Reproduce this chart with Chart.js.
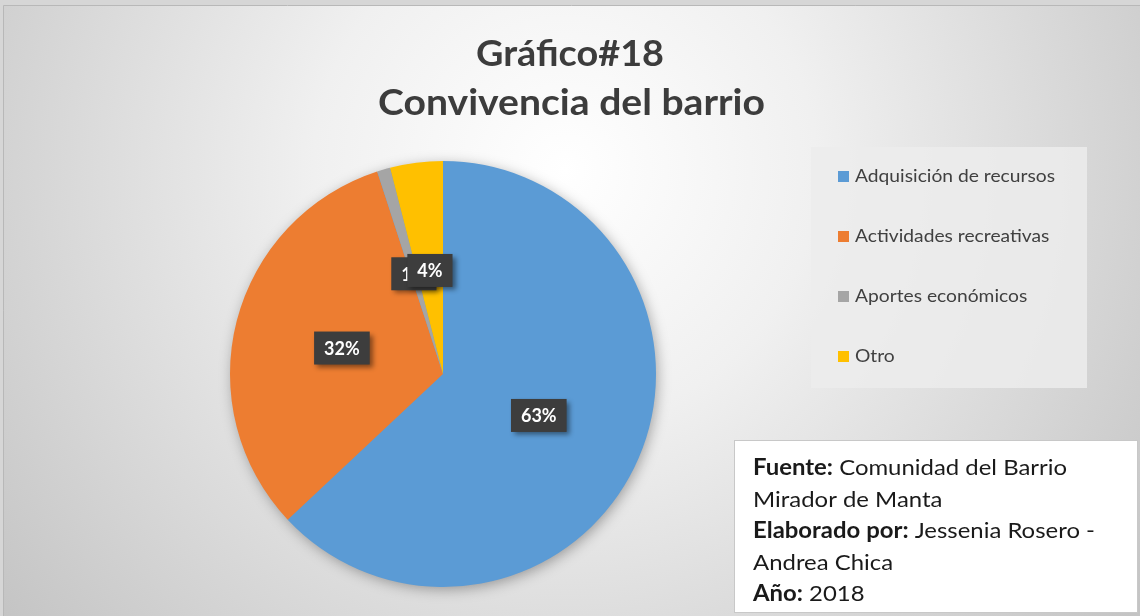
<!DOCTYPE html>
<html>
<head>
<meta charset="utf-8">
<script src="https://cdn.jsdelivr.net/npm/chart.js@4.4.1/dist/chart.umd.min.js"></script>
<style>
  html, body { margin: 0; padding: 0; background: #d9d9d9; }
  #wrap { width: 1140px; height: 616px; position: relative; }
  canvas { display: block; }
</style>
</head>
<body>
<div id="wrap"><canvas id="c" width="1140" height="616"></canvas></div>
<script>
// ---- Data ----
const titleLines = ["Gráfico#18", "Convivencia del barrio"];
const categories = ["Adquisición de recursos", "Actividades recreativas", "Aportes económicos", "Otro"];
const percentValues = [63, 32, 1, 4];
const sliceColors = ["#5b9bd5", "#ed7d31", "#a5a5a5", "#ffc000"];
const sourceLines = [
  [["Fuente:", true], [" Comunidad del Barrio", false]],
  [["Mirador de Manta", false]],
  [["Elaborado por:", true], [" Jessenia Rosero -", false]],
  [["Andrea Chica", false]],
  [["Año:", true], [" 2018", false]]
];

const FONT = "Lato, 'Open Sans', sans-serif";
const TEXT = "#3c3c3c";

function scaledText(ctx, parts, x, y, size, sx, color) {
  ctx.save();
  ctx.translate(x, y);
  ctx.scale(sx, 1);
  ctx.fillStyle = color;
  ctx.textBaseline = "alphabetic";
  ctx.textAlign = "left";
  let cx = 0;
  parts.forEach(([t, b]) => {
    ctx.font = (b ? "bold " : "") + size + "px " + FONT;
    ctx.fillText(t, cx, 0);
    cx += ctx.measureText(t).width;
  });
  ctx.restore();
}
function partsWidth(ctx, parts, size) {
  let w = 0;
  parts.forEach(([t, b]) => {
    ctx.font = (b ? "bold " : "") + size + "px " + FONT;
    w += ctx.measureText(t).width;
  });
  return w;
}

const decor = {
  id: "decor",
  beforeDraw(chart) {
    const ctx = chart.ctx;
    ctx.save();
    ctx.fillStyle = "#d6d6d6";
    ctx.fillRect(0, 0, 1140, 616);
    const g = ctx.createRadialGradient(565, 170, 0, 565, 170, 720);
    g.addColorStop(0, "#ffffff");
    g.addColorStop(0.35, "#f0f0f0");
    g.addColorStop(1, "#c4c4c4");
    ctx.fillStyle = g;
    ctx.fillRect(3, 5, 1137, 611);
    ctx.strokeStyle = "#b8b8b8";
    ctx.lineWidth = 1;
    ctx.beginPath();
    ctx.moveTo(3.5, 616); ctx.lineTo(3.5, 5.5); ctx.lineTo(1140, 5.5);
    ctx.stroke();

    // Title
    const tw = [188, 387], tx = [476, 378], ty = [66, 115];
    titleLines.forEach((t, i) => {
      ctx.font = "bold 37px " + FONT;
      const w = ctx.measureText(t).width;
      scaledText(ctx, [[t, true]], tx[i], ty[i], 37, tw[i] / w, TEXT);
    });

    // Legend box
    ctx.fillStyle = "rgba(236,236,236,0.85)";
    ctx.fillRect(811, 147, 276, 241);
    const ly = [176, 236, 296, 356];
    ctx.font = "17px " + FONT;
    const lsx = 200 / ctx.measureText(categories[0]).width;
    categories.forEach((c, i) => {
      ctx.fillStyle = sliceColors[i];
      ctx.fillRect(838, ly[i] - 5, 11, 11);
      scaledText(ctx, [[c, false]], 855, ly[i] + 6, 17, lsx, "#404040");
    });

    // Source box
    ctx.fillStyle = "#ffffff";
    ctx.fillRect(734, 440, 404, 173);
    ctx.strokeStyle = "#c8c8c8";
    ctx.strokeRect(734.5, 440.5, 403, 172);
    const ssx = 314 / partsWidth(ctx, sourceLines[0], 22);
    sourceLines.forEach((p, i) => {
      scaledText(ctx, p, 753, 475 + i * 31.5, 22, ssx, "#1a1a1a");
    });
    ctx.restore();
  },
  beforeDatasetsDraw(chart) {
    const arc = chart.getDatasetMeta(0).data[0];
    if (!arc) return;
    const { x, y, outerRadius } = arc.getProps(["x", "y", "outerRadius"], true);
    const ctx = chart.ctx;
    ctx.save();
    ctx.shadowColor = "rgba(0,0,0,0.35)";
    ctx.shadowBlur = 14;
    ctx.shadowOffsetX = 2;
    ctx.shadowOffsetY = 3;
    ctx.fillStyle = "#5b9bd5";
    ctx.beginPath();
    ctx.arc(x, y, outerRadius - 1, 0, Math.PI * 2);
    ctx.fill();
    ctx.restore();
  },
  afterDatasetsDraw(chart) {
    const ctx = chart.ctx;
    const meta = chart.getDatasetMeta(0);
    meta.data.forEach((el, i) => {
      const p = el.getProps(["x", "y", "startAngle", "endAngle", "outerRadius"], true);
      const mid = (p.startAngle + p.endAngle) / 2;
      const cx = p.x + Math.cos(mid) * p.outerRadius * 0.49;
      const cy = p.y + Math.sin(mid) * p.outerRadius * 0.49;
      const label = percentValues[i] + "%";
      ctx.save();
      ctx.font = "bold 18px " + FONT;
      const w = ctx.measureText(label).width + 20;
      const h = 33;
      ctx.shadowColor = "rgba(0,0,0,0.45)";
      ctx.shadowBlur = 5;
      ctx.shadowOffsetX = 3;
      ctx.shadowOffsetY = 3;
      ctx.fillStyle = "#3d3d3d";
      ctx.fillRect(cx - w / 2, cy - h / 2, w, h);
      ctx.shadowColor = "transparent";
      ctx.fillStyle = "#ffffff";
      ctx.textAlign = "center";
      ctx.textBaseline = "middle";
      ctx.fillText(label, cx, cy + 1);
      ctx.restore();
    });
  }
};

new Chart(document.getElementById("c"), {
  type: "pie",
  data: {
    labels: categories,
    datasets: [{
      data: percentValues,
      backgroundColor: sliceColors,
      borderWidth: 0
    }]
  },
  options: {
    responsive: false,
    animation: false,
    layout: { padding: { left: 230, right: 484, top: 161, bottom: 29 } },
    plugins: {
      legend: { display: false },
      title: { display: false },
      tooltip: { enabled: false }
    }
  },
  plugins: [decor]
});
</script>
</body>
</html>
